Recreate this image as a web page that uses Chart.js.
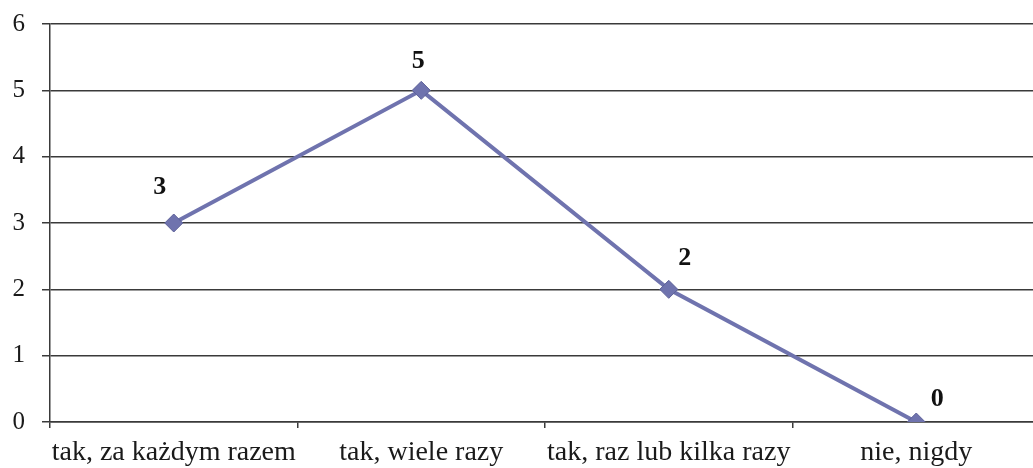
<!DOCTYPE html>
<html>
<head>
<meta charset="utf-8">
<script src="https://cdn.jsdelivr.net/npm/chart.js@4/dist/chart.umd.min.js"></script>
<style>
  html, body { margin: 0; padding: 0; background: #fff; overflow: hidden; }
  #wrap { width: 1050px; height: 468px; }
</style>
</head>
<body>
<div id="wrap"><canvas id="answers" width="1050" height="468"></canvas></div>
<script>
var categories = ["tak, za każdym razem", "tak, wiele razy", "tak, raz lub kilka razy", "nie, nigdy"];
var counts = [3, 5, 2, 0];
var yTicks = [0, 1, 2, 3, 4, 5, 6];

// where each value label sits relative to its point
var labelShift = [[-14, -36], [-3, -29], [16, -31], [21, -23]];

var lineColor = "#6f73ae";
var gridColor = "#3a3a3a";

var valueLabels = {
  id: "valueLabels",
  afterDatasetsDraw: function (chart) {
    var ctx = chart.ctx;
    var meta = chart.getDatasetMeta(0);
    ctx.save();
    ctx.font = "bold 26px 'Liberation Serif'";
    ctx.fillStyle = "#111";
    ctx.textAlign = "center";
    ctx.textBaseline = "middle";
    meta.data.forEach(function (pt, i) {
      ctx.fillText(String(counts[i]), pt.x + labelShift[i][0], pt.y + labelShift[i][1]);
    });
    ctx.restore();
  }
};

var ctx = document.getElementById("answers");
var chart = new Chart(ctx, {
  type: "line",
  data: {
    labels: categories,
    datasets: [{
      data: counts,
      borderColor: lineColor,
      borderWidth: 4,
      tension: 0,
      pointStyle: "rectRot",
      pointRadius: 9,
      pointBackgroundColor: lineColor,
      pointBorderColor: "#5d6199",
      pointBorderWidth: 1
    }]
  },
  options: {
    responsive: false,
    animation: false,
    layout: { padding: { top: 24, right: 4, left: 0, bottom: 0 } },
    plugins: {
      legend: { display: false },
      tooltip: { enabled: false }
    },
    scales: {
      x: {
        offset: true,
        grid: {
          offset: true,
          drawOnChartArea: false,
          drawTicks: true,
          tickLength: 6,
          color: gridColor,
          lineWidth: 1.5
        },
        border: { display: true, color: gridColor, width: 1.5 },
        ticks: {
          color: "#1a1a1a",
          padding: 8,
          maxRotation: 0,
          autoSkip: false,
          font: { family: "'Liberation Serif'", size: 28 }
        },
        afterFit: function (scale) { scale.height = 46; }
      },
      y: {
        min: 0,
        max: 6,
        afterBuildTicks: function (scale) {
          scale.ticks = yTicks.map(function (v) { return { value: v }; });
        },
        grid: {
          color: gridColor,
          lineWidth: 1.5,
          tickLength: 8
        },
        border: { display: true, color: gridColor, width: 1.5 },
        ticks: {
          color: "#1a1a1a",
          padding: 17,
          font: { family: "'Liberation Serif'", size: 25 }
        },
        afterFit: function (scale) {
          scale.width = 50;
          scale.paddingTop = 0;
          scale.paddingBottom = 0;
        }
      }
    }
  },
  plugins: [valueLabels]
});
</script>
</body>
</html>
